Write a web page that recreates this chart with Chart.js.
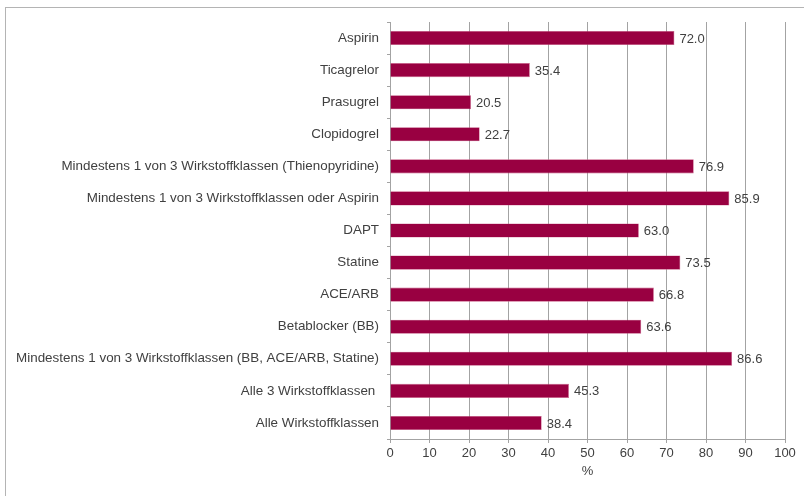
<!DOCTYPE html>
<html>
<head>
<meta charset="utf-8">
<script src="https://cdn.jsdelivr.net/npm/chart.js@4/dist/chart.umd.min.js"></script>
<style>
  html, body { margin: 0; padding: 0; background: #fff; }
  #wrap { position: relative; width: 804px; height: 496px; overflow: hidden; }
  #frame {
    position: absolute; left: 5px; top: 7px; width: 900px; height: 600px;
    border-left: 1px solid #b4b4b4; border-top: 1px solid #b4b4b4;
  }
  canvas { position: absolute; left: 0; top: 0; }
</style>
</head>
<body>
<div id="wrap">
  <div id="frame"></div>
  <canvas id="chart" width="804" height="496"></canvas>
</div>
<script>
const categories = [
  "Aspirin",
  "Ticagrelor",
  "Prasugrel",
  "Clopidogrel",
  "Mindestens 1 von 3 Wirkstoffklassen (Thienopyridine)",
  "Mindestens 1 von 3 Wirkstoffklassen oder Aspirin",
  "DAPT",
  "Statine",
  "ACE/ARB",
  "Betablocker (BB)",
  "Mindestens 1 von 3 Wirkstoffklassen (BB, ACE/ARB, Statine)",
  "Alle 3 Wirkstoffklassen ",
  "Alle Wirkstoffklassen",
];
const values = [72.0, 35.4, 20.5, 22.7, 76.9, 85.9, 63.0, 73.5, 66.8, 63.6, 86.6, 45.3, 38.4];
const xTicks = [0, 10, 20, 30, 40, 50, 60, 70, 80, 90, 100];
const axisTitle = "%";

const gridGray = "#a3a3a3";
const textGray = "#404040";
const fontFamily = "'Liberation Sans', Arial, sans-serif";

// value labels right of each bar
const valueLabels = {
  id: "valueLabels",
  afterDatasetsDraw(chart) {
    const { ctx } = chart;
    const meta = chart.getDatasetMeta(0);
    ctx.save();
    ctx.font = "13px " + fontFamily;
    ctx.fillStyle = textGray;
    ctx.textAlign = "left";
    ctx.textBaseline = "middle";
    meta.data.forEach((bar, i) => {
      ctx.fillText(values[i].toFixed(1), bar.x + 5, bar.y + 1);
    });
    ctx.restore();
  },
};

new Chart(document.getElementById("chart"), {
  type: "bar",
  data: {
    labels: categories,
    datasets: [
      {
        data: values,
        backgroundColor: "#990041",
        borderColor: "#c85a84",
        borderWidth: 0.6,
        barPercentage: 0.88,
        categoryPercentage: 0.5,
      },
    ],
  },
  options: {
    indexAxis: "y",
    responsive: false,
    animation: false,
    layout: { padding: { top: 22, right: 19, bottom: 0, left: 0 } },
    plugins: {
      legend: { display: false },
      tooltip: { enabled: false },
    },
    scales: {
      x: {
        min: 0,
        max: 100,
        afterBuildTicks: (scale) => {
          scale.ticks = xTicks.map((v) => ({ value: v }));
        },
        afterFit: (scale) => {
          scale.height = 57;
        },
        grid: {
          color: gridGray,
          lineWidth: 1,
          tickLength: 4,
        },
        border: { color: gridGray, width: 1 },
        ticks: {
          color: textGray,
          padding: 3,
          font: { family: fontFamily, size: 13 },
        },
        title: {
          display: true,
          text: axisTitle,
          color: textGray,
          font: { family: fontFamily, size: 13 },
          padding: { top: 2, bottom: 17 },
        },
      },
      y: {
        afterFit: (scale) => {
          scale.width = 390;
        },
        grid: {
          drawOnChartArea: false,
          color: gridGray,
          tickLength: 3,
          offset: true,
        },
        border: { color: gridGray, width: 1 },
        ticks: {
          color: textGray,
          padding: 8,
          autoSkip: false,
          font: { family: fontFamily, size: 13.4 },
        },
      },
    },
  },
  plugins: [valueLabels],
});
</script>
</body>
</html>
